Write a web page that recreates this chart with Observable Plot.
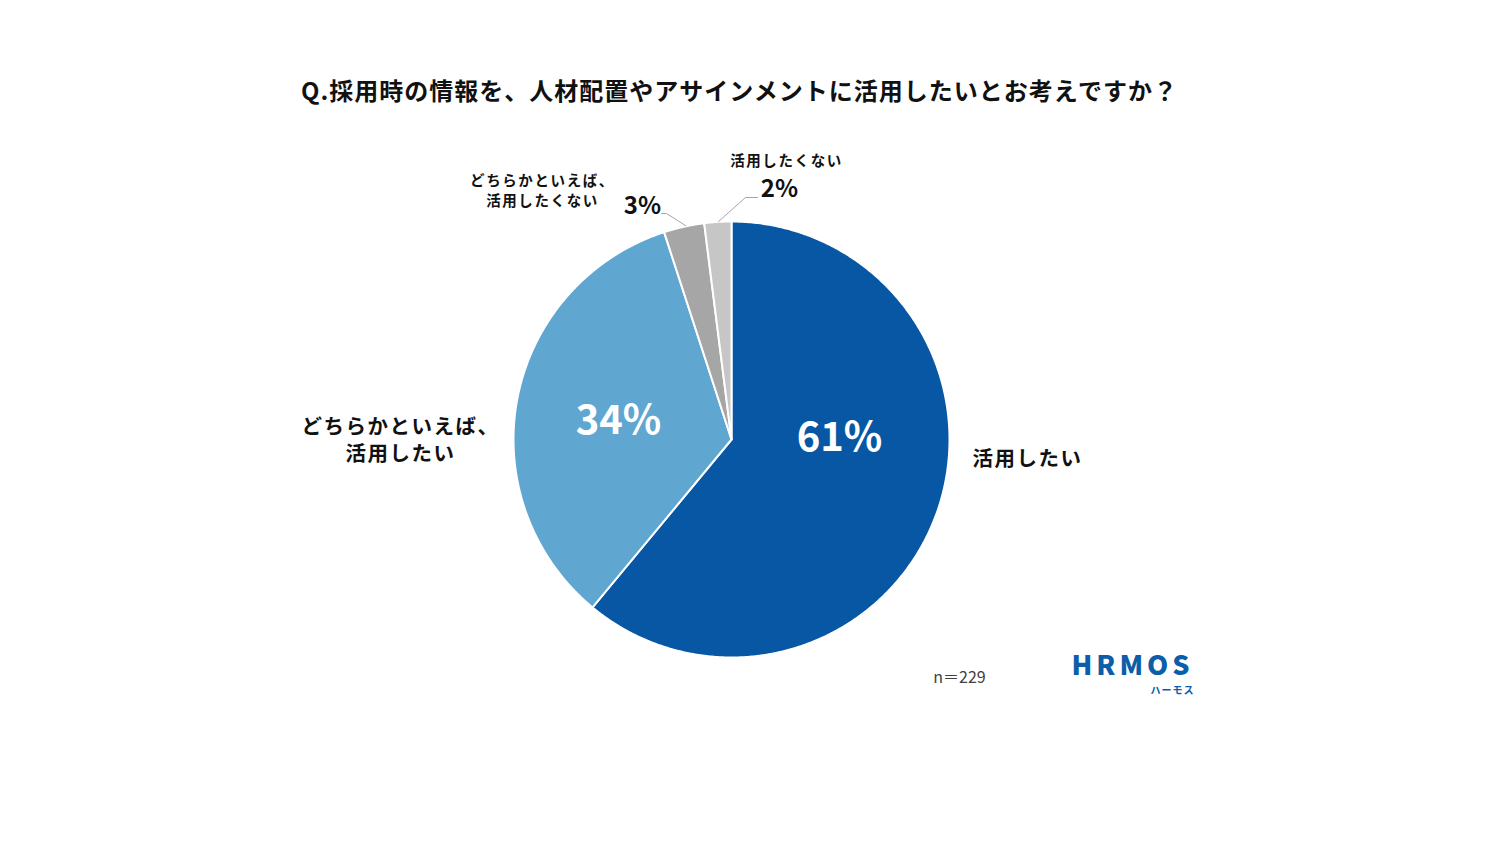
<!DOCTYPE html>
<html>
<head>
<meta charset="utf-8">
<script src="https://cdn.jsdelivr.net/npm/d3@7"></script>
<script src="https://cdn.jsdelivr.net/npm/@observablehq/plot@0.6"></script>
<style>
  html, body { margin: 0; padding: 0; background: #fff; }
  #chart { width: 1500px; height: 844px; }
  svg text { font-family: "Noto Sans CJK JP", "Noto Sans", sans-serif; }
</style>
</head>
<body>
<div id="chart"></div>
<script>
// ---- data ----
const title = "Q.採用時の情報を、人材配置やアサインメントに活用したいとお考えですか？";
const categories = ["活用したい", "どちらかといえば、\n活用したい", "どちらかといえば、\n活用したくない", "活用したくない"];
const values = [61, 34, 3, 2];
const valueLabels = ["61%", "34%", "3%", "2%"];
const sampleNote = "n＝229";
const brand = "HRMOS";
const brandSub = "ハーモス";

// ---- styles / layout ----
const colors = ["#0757a5", "#5fa7d1", "#a6a6a6", "#c6c6c6"];
const W = 1500, H = 844, CX = 731, CY = 439, R = 218;
const ux = px => (px - CX) / R;
const uy = py => (py - CY) / R;

// slice polygons from d3.pie
const arcs = d3.pie().sort(null).value(d => d.value)(
  categories.map((c, i) => ({category: c, value: values[i], color: colors[i], i}))
);
const slicePts = [];
for (const a of arcs) {
  const n = Math.max(2, Math.ceil((a.endAngle - a.startAngle) / (Math.PI / 360)));
  slicePts.push({k: a.data.i, x: 0, y: 0, color: a.data.color});
  for (let j = 0; j <= n; j++) {
    const t = a.startAngle + (a.endAngle - a.startAngle) * j / n;
    slicePts.push({k: a.data.i, x: Math.sin(t), y: -Math.cos(t), color: a.data.color});
  }
  slicePts.push({k: a.data.i, x: 0, y: 0, color: a.data.color});
}

// label placement (styles, not data)
const inside = [
  {i: 0, x: ux(839), y: uy(438)},
  {i: 1, x: ux(618), y: uy(421)}
];
const bigOutside = [
  {i: 0, x: ux(1027), y: uy(457)},
  {i: 1, x: ux(400), y: uy(438)}
];
const smallOutside = [
  {i: 2, x: ux(542), y: uy(189)},
  {i: 3, x: ux(786), y: uy(159)}
];
const smallPct = [
  {i: 2, x: ux(642), y: uy(206)},
  {i: 3, x: ux(779), y: uy(189)}
];
const leaders = [
  {k: 2, x: ux(661), y: uy(213)}, {k: 2, x: ux(666), y: uy(213)}, {k: 2, x: ux(685), y: uy(225)},
  {k: 3, x: ux(757), y: uy(197)}, {k: 3, x: ux(745), y: uy(197)}, {k: 3, x: ux(718), y: uy(221)}
];

const chart = Plot.plot({
  width: W, height: H,
  margin: 0,
  x: {domain: [ux(0), ux(W)], range: [0, W], axis: null},
  y: {domain: [uy(0), uy(H)], range: [0, H], axis: null},
  style: {background: "#fff"},
  marks: [
    Plot.line(slicePts, {x: "x", y: "y", z: "k", fill: "color", stroke: "#fff", strokeWidth: 2, strokeLinejoin: "round"}),
    Plot.line(leaders, {x: "x", y: "y", z: "k", stroke: "#a6a6a6", strokeWidth: 1}),
    Plot.text(inside, {x: "x", y: "y", text: d => valueLabels[d.i], fill: "#fff", fontSize: 40, fontWeight: 700, fontFamily: "Noto Sans"}),
    Plot.text(bigOutside, {x: "x", y: "y", text: d => categories[d.i], fill: "#111", fontSize: 20.5, fontWeight: 700, lineHeight: 1.35}),
    Plot.text(smallOutside, {x: "x", y: "y", text: d => categories[d.i], fill: "#111", fontSize: 14.5, fontWeight: 700, lineHeight: 1.38}),
    Plot.text(smallPct, {x: "x", y: "y", text: d => valueLabels[d.i], fill: "#111", fontSize: 24, fontWeight: 700, fontFamily: "Noto Sans"}),
    Plot.text([title], {x: ux(739), y: uy(92), text: d => d, fill: "#111", fontSize: 24, fontWeight: 700}),
    Plot.text([sampleNote], {x: ux(959), y: uy(677), text: d => d, fill: "#404040", fontSize: 16, fontFamily: "Noto Sans"}),
    Plot.text([brand], {x: ux(1132), y: uy(666), text: d => d, fill: "#0d5ea8", fontSize: 27, fontWeight: 800, fontFamily: "Noto Sans"}),
    Plot.text([brandSub], {x: ux(1194), y: uy(690), text: d => d, fill: "#0d5ea8", fontSize: 10, fontWeight: 700, textAnchor: "end"})
  ]
});
// letter spacing per text mark (in mark order)
const spacing = [0, 1.5, 1.6, 0, 1, 0, 4, 1];
chart.querySelectorAll('g[aria-label="text"]').forEach((g, i) => {
  if (spacing[i]) g.style.letterSpacing = spacing[i] + "px";
});
document.getElementById("chart").append(chart);
</script>
</body>
</html>
